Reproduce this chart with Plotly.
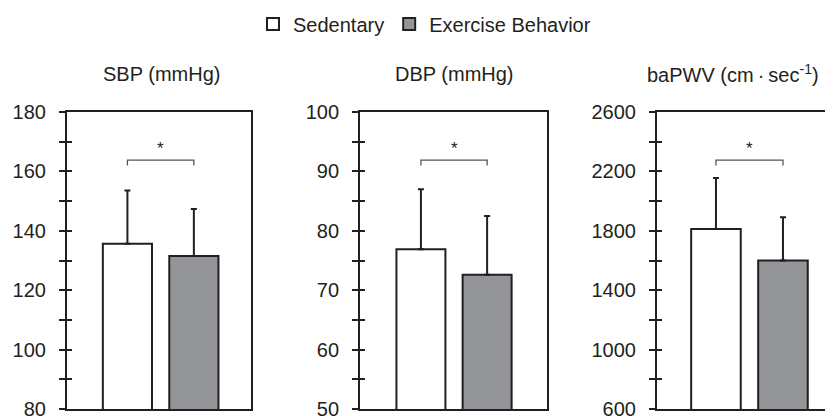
import plotly.graph_objects as go

# ---- data ----
panel_titles = ["SBP (mmHg)", "DBP (mmHg)", "baPWV (cm\u2009·\u2009sec<sup>-1</sup>)"]
groups = ["Sedentary", "Exercise Behavior"]
sed_mean = [135.6, 76.9, 1812]
sed_sd = [18.0, 10.1, 344]
ex_mean = [131.5, 72.6, 1600]
ex_sd = [15.8, 9.9, 291]
y_ranges = [[80, 180], [50, 100], [600, 2600]]
y_dticks = [20, 10, 400]
sig_marks = ["*", "*", "*"]

# ---- style ----
INK = "#231f20"
GREY = "#939598"
FONT = "Liberation Sans, Arial, sans-serif"
W, H = 833, 416
domains = [[0.0708, 0.2917], [0.4226, 0.6467], [0.7791, 1.0]]
x_ranges = [[-0.91, 1.86], [-0.92, 1.90], [-0.88, 1.866]]
title_x = [0.1837, 0.5366, 0.8703]
BAR_W = 0.74

fig = go.Figure()
shapes = []
annotations = []

for i in range(3):
    ax = "" if i == 0 else str(i + 1)
    xref = "x" + ax
    yref = "y" + ax
    fig.add_trace(go.Bar(
        x=[0], y=[sed_mean[i]], width=BAR_W, name=groups[0],
        marker=dict(color="white", line=dict(color=INK, width=2)),
        error_y=dict(type="data", array=[sed_sd[i]], arrayminus=[0], symmetric=False,
                     width=3, thickness=2, color=INK),
        xaxis=xref, yaxis=yref, showlegend=(i == 0), legendgroup="s",
    ))
    fig.add_trace(go.Bar(
        x=[1], y=[ex_mean[i]], width=BAR_W, name=groups[1],
        marker=dict(color=GREY, line=dict(color=INK, width=2)),
        error_y=dict(type="data", array=[ex_sd[i]], arrayminus=[0], symmetric=False,
                     width=3, thickness=2, color=INK),
        xaxis=xref, yaxis=yref, showlegend=(i == 0), legendgroup="e",
    ))
    # overlay axis for inward half of crossing ticks
    ov = str(4 + i)
    fig.add_trace(go.Scatter(x=[0], y=[y_ranges[i][0]], xaxis=xref, yaxis="y" + ov,
                             mode="markers", marker=dict(size=0.1, opacity=0),
                             showlegend=False, hoverinfo="skip"))

    fig.update_layout(**{
        "xaxis" + ax: dict(domain=domains[i], range=x_ranges[i], showgrid=False,
                           zeroline=False, showticklabels=False, ticks="",
                           showline=True, linecolor=INK, linewidth=2, mirror=True,
                           anchor=yref, fixedrange=True),
        "yaxis" + ax: dict(range=y_ranges[i], dtick=y_dticks[i], tick0=y_ranges[i][0],
                           showgrid=False, zeroline=False, showline=True,
                           linecolor=INK, linewidth=2,
                           mirror=(i < 2), ticks="outside", ticklen=6, tickwidth=2,
                           tickcolor=INK, anchor=xref, ticklabelstandoff=9,
                           tickfont=dict(size=20, color=INK, family=FONT),
                           minor=dict(dtick=y_dticks[i] / 2, tick0=y_ranges[i][0],
                                      ticks="outside", ticklen=6,
                                      tickwidth=2, tickcolor=INK, showgrid=False),
                           domain=[0, 1]),
        "yaxis" + ov: dict(range=y_ranges[i], dtick=y_dticks[i], tick0=y_ranges[i][0],
                           showgrid=False, zeroline=False, showline=False,
                           showticklabels=False,
                           ticks="inside", ticklen=5, tickwidth=2, tickcolor=INK,
                           overlaying=yref, anchor=xref, side="left",
                           minor=dict(dtick=y_dticks[i] / 2, tick0=y_ranges[i][0],
                                      ticks="inside", ticklen=5,
                                      tickwidth=2, tickcolor=INK, showgrid=False)),
    })

    # significance bracket
    shapes.append(dict(type="path", xref=xref, yref=yref + " domain",
                       path="M 0,0.820 L 0,0.838 L 1,0.838 L 1,0.820",
                       line=dict(color="#555555", width=1.3)))
    annotations.append(dict(text=sig_marks[i], x=0.5, y=0.878, xref=xref,
                            yref=yref + " domain", showarrow=False,
                            font=dict(size=17, color=INK, family=FONT),
                            xanchor="center", yanchor="middle"))
    annotations.append(dict(text=panel_titles[i], x=title_x[i], y=1.128,
                            xref="paper", yref="paper", showarrow=False,
                            font=dict(size=20, color=INK, family=FONT),
                            xanchor="center", yanchor="middle"))

fig.update_layout(
    width=W, height=H,
    margin=dict(l=0, r=0, t=104, b=15),
    paper_bgcolor="white", plot_bgcolor="white",
    barmode="overlay",
    font=dict(family=FONT, color=INK),
    showlegend=True,
    legend=dict(orientation="h", x=0.5, xanchor="center", y=1 - 16 / H,
                yanchor="middle", yref="container",
                font=dict(size=20, color=INK, family=FONT), itemclick=False),
    shapes=shapes, annotations=annotations,
)

fig.write_html("out.html")
